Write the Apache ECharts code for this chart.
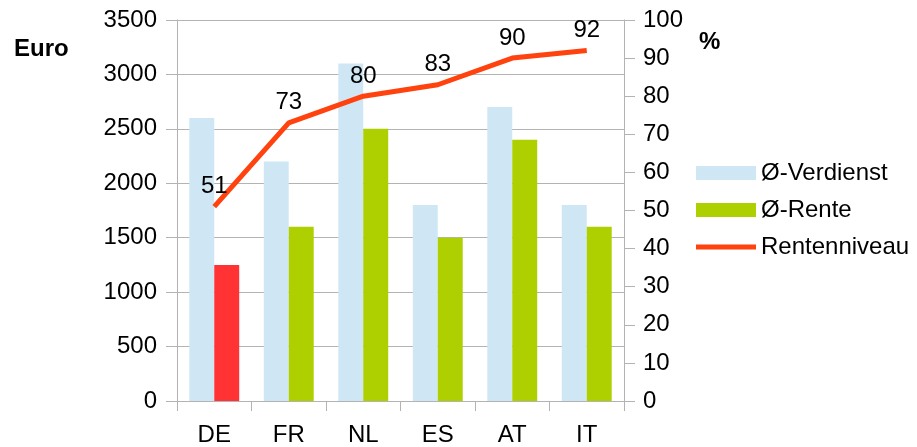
<!DOCTYPE html>
<html>
<head>
<meta charset="utf-8">
<script src="https://cdn.jsdelivr.net/npm/echarts@6/dist/echarts.min.js"></script>
<style>
html,body{margin:0;padding:0;background:#fff;}
#chart{width:917px;height:447px;}
</style>
</head>
<body>
<div id="chart"></div>
<script>
const categories = ['DE', 'FR', 'NL', 'ES', 'AT', 'IT'];
const verdienst = [2600, 2200, 3100, 1800, 2700, 1800];
const rente = [1250, 1600, 2500, 1500, 2400, 1600];
const rentenniveau = [51, 73, 80, 83, 90, 92];
const euroTicks = [0, 500, 1000, 1500, 2000, 2500, 3000, 3500];
const pctTicks = [0, 10, 20, 30, 40, 50, 60, 70, 80, 90, 100];
const seriesNames = ['Ø-Verdienst', 'Ø-Rente', 'Rentenniveau'];

const FONT = 'Liberation Sans, Arial, sans-serif';
const GRAY = '#b3b3b3';
const BLUE = '#cfe7f5';
const GREEN = '#aecf00';
const RED = '#ff3333';
const ORANGE = '#ff420e';

const chart = echarts.init(document.getElementById('chart'), null, {renderer: 'canvas'});
chart.setOption({
  animation: false,
  backgroundColor: '#fff',
  textStyle: {fontFamily: FONT},
  grid: {left: 177, right: 293, top: 20, bottom: 45, containLabel: false},
  legend: {
    orient: 'vertical',
    left: 696,
    top: 161,
    padding: 0,
    itemWidth: 60,
    itemHeight: 14,
    itemGap: 13,
    textStyle: {fontSize: 24, color: '#000', fontFamily: FONT},
    data: [
      {name: seriesNames[0], icon: 'rect'},
      {name: seriesNames[1], icon: 'rect'},
      {name: seriesNames[2], icon: 'path://M0,0H60V5H0Z'}
    ]
  },
  xAxis: {
    type: 'category',
    data: categories,
    axisLine: {show: true, lineStyle: {color: GRAY, width: 1}},
    axisTick: {show: true, length: 10, lineStyle: {color: GRAY}},
    axisLabel: {fontSize: 24, color: '#000', margin: 22, fontFamily: FONT},
    splitLine: {show: false}
  },
  yAxis: [
    {
      type: 'value',
      min: 0, max: 3500, interval: 500,
      axisLine: {show: true, lineStyle: {color: GRAY, width: 1}},
      axisTick: {show: true, length: 11, lineStyle: {color: GRAY}},
      axisLabel: {fontSize: 24, color: '#000', margin: 20, fontFamily: FONT,
        formatter: v => euroTicks.includes(v) ? String(v) : ''},
      splitLine: {show: true, lineStyle: {color: GRAY, width: 1}}
    },
    {
      type: 'value',
      min: 0, max: 100, interval: 10,
      position: 'right',
      axisLine: {show: true, lineStyle: {color: GRAY, width: 1}},
      axisTick: {show: true, length: 11, lineStyle: {color: GRAY}},
      axisLabel: {fontSize: 24, color: '#000', margin: 19, fontFamily: FONT,
        formatter: v => pctTicks.includes(v) ? String(v) : ''},
      splitLine: {show: false}
    }
  ],
  graphic: [
    {type: 'text', left: 14, top: 37, style: {text: 'Euro', font: 'bold 24px ' + FONT, fill: '#000'}},
    {type: 'text', left: 699, top: 30, style: {text: '%', font: 'bold 24px ' + FONT, fill: '#000'}}
  ],
  series: [
    {
      name: seriesNames[0],
      type: 'bar',
      yAxisIndex: 0,
      data: verdienst,
      itemStyle: {color: BLUE},
      barGap: '0%',
      barCategoryGap: '33%'
    },
    {
      name: seriesNames[1],
      type: 'bar',
      yAxisIndex: 0,
      data: rente.map((v, i) => i === 0 ? {value: v, itemStyle: {color: RED}} : v),
      itemStyle: {color: GREEN},
      barGap: '0%',
      barCategoryGap: '33%'
    },
    {
      name: seriesNames[2],
      type: 'line',
      yAxisIndex: 1,
      data: rentenniveau,
      symbol: 'circle',
      symbolSize: 0.01,
      showSymbol: true,
      z: 5,
      lineStyle: {color: ORANGE, width: 5},
      itemStyle: {color: ORANGE},
      label: {show: true, position: 'top', distance: 8, fontSize: 24, color: '#000', fontFamily: FONT}
    }
  ]
});
</script>
</body>
</html>
